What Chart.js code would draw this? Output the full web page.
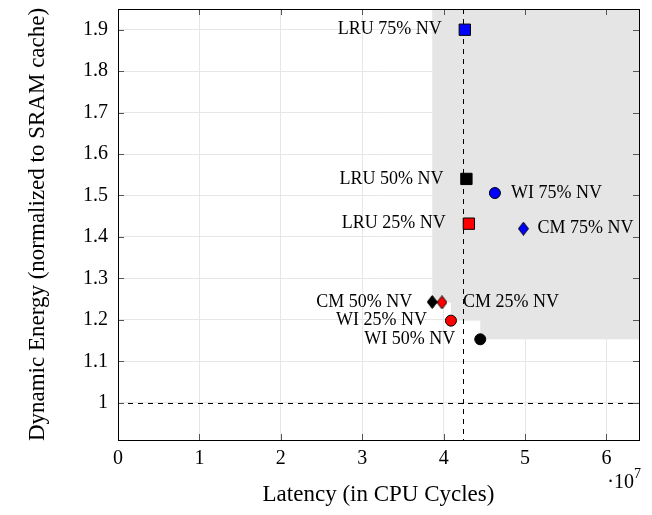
<!DOCTYPE html>
<html>
<head>
<meta charset="utf-8">
<script src="https://cdn.jsdelivr.net/npm/chart.js@4.4.1/dist/chart.umd.min.js"></script>
<style>
  html, body { margin: 0; padding: 0; background: #fff; }
  #wrap { width: 652px; height: 515px; }
</style>
</head>
<body>
<div id="wrap"><canvas id="chart"></canvas></div>
<script>
const policies = ['LRU', 'WI', 'CM']
const nvLevels = ['25% NV', '50% NV', '75% NV']

// latency in CPU cycles, energy normalized to the SRAM cache
const lruLatency = [4.31e7, 4.28e7, 4.26e7]
const lruEnergy = [1.432, 1.540, 1.900]
const wiLatency = [4.09e7, 4.45e7, 4.63e7]
const wiEnergy = [1.198, 1.153, 1.506]
const cmLatency = [3.98e7, 3.86e7, 4.98e7]
const cmEnergy = [1.242, 1.243, 1.420]

const sramLatency = 4.24e7
const sramEnergy = 1

const xTicks = [0, 1e7, 2e7, 3e7, 4e7, 5e7, 6e7]
const yTicks = [1, 1.1, 1.2, 1.3, 1.4, 1.5, 1.6, 1.7, 1.8, 1.9]

const nvColors = ['#ff0000', '#000000', '#0000ff']
const serif = '"Liberation Serif", "Times New Roman", serif'

Chart.defaults.font.family = serif
Chart.defaults.color = '#000'

const toPoints = (xs, ys) => xs.map((x, i) => ({ x, y: ys[i] }))

// pgfplots-like diamond, a bit taller than wide
function diamond(color) {
  const c = document.createElement('canvas')
  c.width = 11
  c.height = 14
  const g = c.getContext('2d')
  g.beginPath()
  g.moveTo(5.5, 0.5)
  g.lineTo(10.5, 7)
  g.lineTo(5.5, 13.5)
  g.lineTo(0.5, 7)
  g.closePath()
  g.fillStyle = color
  g.fill()
  g.strokeStyle = '#000'
  g.lineWidth = 1
  g.stroke()
  return c
}

// grey area = everything up-right of some configuration, plus the SRAM dashed lines
const regionPlugin = {
  id: 'region',
  beforeDatasetsDraw(chart) {
    const { ctx, chartArea: a, scales: { x, y } } = chart
    ctx.save()
    ctx.fillStyle = '#e5e5e5'
    chart.data.datasets.forEach(ds => ds.data.forEach(p => {
      const px = x.getPixelForValue(p.x)
      const py = y.getPixelForValue(p.y)
      ctx.fillRect(px, a.top, a.right - px, py - a.top)
    }))
    ctx.strokeStyle = '#000'
    ctx.lineWidth = 1
    ctx.setLineDash([5, 5])
    const sx = Math.round(x.getPixelForValue(sramLatency)) + 0.5
    const sy = Math.round(y.getPixelForValue(sramEnergy)) + 0.5
    ctx.beginPath()
    ctx.moveTo(sx, a.top)
    ctx.lineTo(sx, a.bottom)
    ctx.moveTo(a.left, sy)
    ctx.lineTo(a.right, sy)
    ctx.stroke()
    ctx.restore()
  }
}

const labelPlugin = {
  id: 'pointLabels',
  afterDatasetsDraw(chart) {
    const ctx = chart.ctx
    ctx.save()
    ctx.font = '18px ' + serif
    ctx.fillStyle = '#000'
    ctx.textBaseline = 'middle'
    chart.data.datasets.forEach((ds, i) => {
      chart.getDatasetMeta(i).data.forEach((pt, j) => {
        const gap = ds.labelGap[j]
        ctx.textAlign = gap < 0 ? 'right' : 'left'
        ctx.fillText(ds.label + ' ' + nvLevels[j], pt.x + gap, pt.y)
      })
    })
    ctx.restore()
  }
}

// box frame, inner ticks on all sides, and the x10^7 factor
const framePlugin = {
  id: 'frame',
  afterDraw(chart) {
    const { ctx, chartArea: a, scales: { x, y } } = chart
    ctx.save()
    ctx.strokeStyle = '#555'
    ctx.lineWidth = 1
    ctx.beginPath()
    x.ticks.forEach(t => {
      const px = Math.round(x.getPixelForValue(t.value)) + 0.5
      ctx.moveTo(px, a.bottom)
      ctx.lineTo(px, a.bottom - 6)
      ctx.moveTo(px, a.top)
      ctx.lineTo(px, a.top + 6)
    })
    y.ticks.forEach(t => {
      const py = Math.round(y.getPixelForValue(t.value)) + 0.5
      ctx.moveTo(a.left, py)
      ctx.lineTo(a.left + 6, py)
      ctx.moveTo(a.right, py)
      ctx.lineTo(a.right - 6, py)
    })
    ctx.stroke()
    ctx.strokeStyle = '#000'
    ctx.strokeRect(Math.round(a.left) + 0.5, Math.round(a.top) + 0.5,
      Math.round(a.right - a.left), Math.round(a.bottom - a.top))

    ctx.fillStyle = '#000'
    ctx.textBaseline = 'alphabetic'
    ctx.textAlign = 'right'
    ctx.font = '20px ' + serif
    ctx.fillText('\u00b710', a.right - 5, a.bottom + 48)
    ctx.textAlign = 'left'
    ctx.font = '14px ' + serif
    ctx.fillText('7', a.right - 5, a.bottom + 38)
    ctx.restore()
  }
}

new Chart(document.getElementById('chart'), {
  type: 'scatter',
  data: {
    datasets: [
      {
        label: policies[0],
        data: toPoints(lruLatency, lruEnergy),
        pointStyle: 'rect',
        pointRadius: 8,
        backgroundColor: nvColors,
        borderColor: '#000',
        borderWidth: 1,
        labelGap: [-23, -23, -23]
      },
      {
        label: policies[1],
        data: toPoints(wiLatency, wiEnergy),
        pointStyle: 'circle',
        pointRadius: 5.5,
        backgroundColor: nvColors,
        borderColor: '#000',
        borderWidth: 1,
        labelGap: [-24, -25, 16]
      },
      {
        label: policies[2],
        data: toPoints(cmLatency, cmEnergy),
        pointStyle: nvColors.map(diamond),
        pointRadius: 7,
        backgroundColor: nvColors,
        borderColor: '#000',
        borderWidth: 1,
        labelGap: [21, -20, 14]
      }
    ]
  },
  options: {
    responsive: true,
    maintainAspectRatio: false,
    devicePixelRatio: 1,
    animation: false,
    events: [],
    layout: { padding: { top: 7, right: 13, bottom: 0, left: 0 } },
    plugins: {
      legend: { display: false },
      tooltip: { enabled: false }
    },
    scales: {
      x: {
        type: 'linear',
        min: 0,
        max: 6.4e7,
        afterBuildTicks: s => { s.ticks = xTicks.map(value => ({ value })) },
        afterFit: s => { s.height = 75; s.paddingLeft = 0; s.paddingRight = 0 },
        grid: { color: '#e6e6e6', drawTicks: false },
        border: { display: false },
        ticks: { padding: 7, font: { size: 20 }, color: '#000', callback: v => String(v / 1e7) },
        title: {
          display: true,
          text: 'Latency (in CPU Cycles)',
          font: { size: 23 },
          color: '#000',
          padding: { top: 0, bottom: 6 }
        }
      },
      y: {
        type: 'linear',
        min: 0.91,
        max: 1.95,
        afterBuildTicks: s => { s.ticks = yTicks.map(value => ({ value })) },
        afterFit: s => { s.width = 118; s.paddingTop = 0; s.paddingBottom = 0 },
        grid: { color: '#e6e6e6', drawTicks: false },
        border: { display: false },
        ticks: { padding: 10, font: { size: 20 }, color: '#000', callback: v => String(v) },
        title: {
          display: true,
          text: 'Dynamic Energy (normalized to SRAM cache)',
          font: { size: 23 },
          color: '#000',
          padding: { top: 24, bottom: 0 }
        }
      }
    }
  },
  plugins: [regionPlugin, labelPlugin, framePlugin]
})
</script>
</body>
</html>
